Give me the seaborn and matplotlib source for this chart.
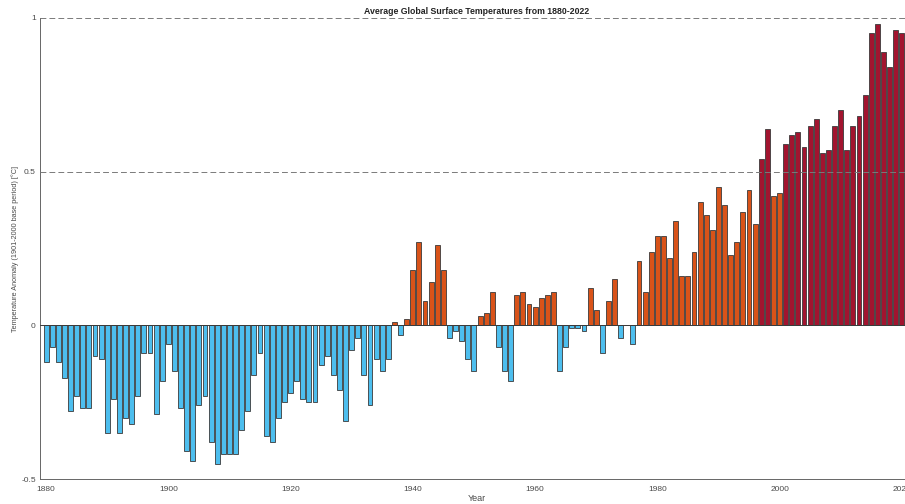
import matplotlib
matplotlib.use("Agg")
import matplotlib.pyplot as plt
import pandas as pd
import seaborn as sns

# Annual global surface temperature anomalies (deg C, 1901-2000 base period)
years = list(range(1880, 2021))
anomaly = [
    -0.12, -0.07, -0.12, -0.17, -0.28, -0.23, -0.27, -0.27, -0.10, -0.11,  # 1880s
    -0.35, -0.24, -0.35, -0.30, -0.32, -0.23, -0.09, -0.09, -0.29, -0.18,  # 1890s
    -0.06, -0.15, -0.27, -0.41, -0.44, -0.26, -0.23, -0.38, -0.45, -0.42,  # 1900s
    -0.42, -0.42, -0.34, -0.28, -0.16, -0.09, -0.36, -0.38, -0.30, -0.25,  # 1910s
    -0.22, -0.18, -0.24, -0.25, -0.25, -0.13, -0.10, -0.16, -0.21, -0.31,  # 1920s
    -0.08, -0.04, -0.16, -0.26, -0.11, -0.15, -0.11, 0.01, -0.03, 0.02,    # 1930s
    0.18, 0.27, 0.08, 0.14, 0.26, 0.18, -0.04, -0.02, -0.05, -0.11,        # 1940s
    -0.15, 0.03, 0.04, 0.11, -0.07, -0.15, -0.18, 0.10, 0.11, 0.07,        # 1950s
    0.06, 0.09, 0.10, 0.11, -0.15, -0.07, -0.01, -0.01, -0.02, 0.12,       # 1960s
    0.05, -0.09, 0.08, 0.15, -0.04, 0.00, -0.06, 0.21, 0.11, 0.24,         # 1970s
    0.29, 0.29, 0.22, 0.34, 0.16, 0.16, 0.24, 0.40, 0.36, 0.31,            # 1980s
    0.45, 0.39, 0.23, 0.27, 0.37, 0.44, 0.33, 0.54, 0.64, 0.42,            # 1990s
    0.43, 0.59, 0.62, 0.63, 0.58, 0.65, 0.67, 0.56, 0.57, 0.65,            # 2000s
    0.70, 0.57, 0.65, 0.68, 0.75, 0.95, 0.98, 0.89, 0.84, 0.96, 0.95,      # 2010-2020
]

x_ticks = [1880, 1900, 1920, 1940, 1960, 1980, 2000, 2020]
y_ticks = [-0.5, 0, 0.5, 1]
y_tick_labels = ["-0.5", "0", "0.5", "1"]


def band(v):
    if v < 0:
        return "cool"
    if v < 0.5:
        return "warm"
    return "hot"


palette = {"cool": "#4DBEEE", "warm": "#D95319", "hot": "#A2142F"}

df = pd.DataFrame({"year": years, "anomaly": anomaly})
df["band"] = [band(v) for v in anomaly]

sns.set_theme(style="white")
plt.rcParams["font.family"] = ["Liberation Sans", "DejaVu Sans"]

fig = plt.figure(figsize=(9.05, 5.04), dpi=100)
ax = fig.add_axes([40 / 905, 25 / 504, 874 / 905, 461 / 504])

sns.barplot(
    data=df, x="year", y="anomaly", hue="band", palette=palette,
    native_scale=True, dodge=False, width=0.8, legend=False,
    edgecolor="#3a3a3a", linewidth=0.6, saturation=1, ax=ax, zorder=2,
)

ax.set_xlim(1879, 2022)
ax.set_ylim(-0.5, 1)

# baseline and dashed reference lines
ax.axhline(0, color="#3a3a3a", lw=0.7, zorder=3)
for yv in (0.5, 1.0):
    ax.axhline(yv, color="#7a7a7a", lw=0.7, dashes=(6, 3.2), zorder=4)

ax.set_xticks(x_ticks)
ax.set_xticklabels([str(t) for t in x_ticks])
ax.set_yticks(y_ticks)
ax.set_yticklabels(y_tick_labels)
ax.tick_params(axis="both", direction="in", length=4.5, width=0.6,
               color="#555555", labelsize=6, labelcolor="#4a4a4a", pad=5)
ax.tick_params(axis="y", pad=3)

for side in ("top", "right"):
    ax.spines[side].set_visible(False)
for side in ("left", "bottom"):
    ax.spines[side].set_color("#666666")
    ax.spines[side].set_linewidth(0.7)

ax.set_title("Average Global Surface Temperatures from 1880-2022",
             fontsize=6.3, fontweight="bold", color="#222222", pad=3)
ax.set_xlabel("Year", fontsize=6.5, color="#4a4a4a")
ax.set_ylabel("Temperature Anomaly (1901-2000 base period) [\u00b0C]",
              fontsize=5.2, color="#4a4a4a")
ax.xaxis.set_label_coords(0.5, -0.033)
ax.yaxis.set_label_coords(-0.024, 0.5)

fig.savefig("out.png", dpi=100)
